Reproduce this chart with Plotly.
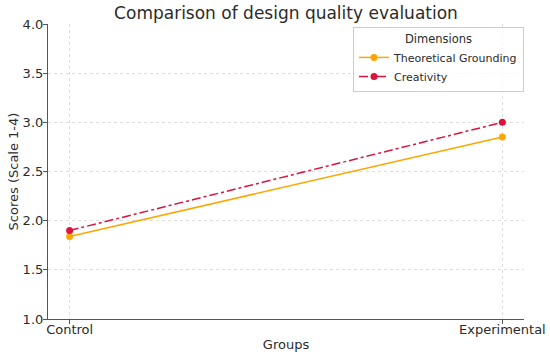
import plotly.graph_objects as go

groups = ["Control", "Experimental"]
theoretical = [1.84, 2.85]
creativity = [1.90, 3.00]
x_idx = [0, 1]

fig = go.Figure()
fig.add_trace(go.Scatter(x=x_idx, y=theoretical, mode="lines+markers", name="Theoretical Grounding",
                         line=dict(color="#FFA500", width=1.5), marker=dict(size=7, color="#FFA500")))
fig.add_trace(go.Scatter(x=x_idx, y=creativity, mode="lines+markers", name="Creativity",
                         line=dict(color="#DC143C", width=1.5, dash="dashdot"), marker=dict(size=7, color="#DC143C")))

fig.update_layout(
    width=550, height=359,
    margin=dict(l=48, r=26, t=24, b=40),
    paper_bgcolor="white", plot_bgcolor="white",
    font=dict(family="DejaVu Sans", color="#2b2b2b", size=13),
    title=dict(text="Comparison of design quality evaluation", x=0.5, xref="paper", xanchor="center",
               y=0.964, yref="container", yanchor="middle",
               font=dict(size=17, color="#2b2b2b")),
    xaxis=dict(range=[-0.05, 1.05], tickmode="array", tickvals=x_idx, ticktext=groups, automargin=False,
               showline=True, linecolor="#555555", linewidth=1.2, ticks="outside", ticklen=4,
               tickcolor="#555555", showgrid=True, gridcolor="#dddddd", griddash="dot", zeroline=False,
               ticklabelstandoff=-6,
               title=dict(text="Groups", font=dict(size=13), standoff=4), tickfont=dict(size=13)),
    yaxis=dict(range=[1.0, 4.0], dtick=0.5, tickformat=".1f", automargin=False,
               showline=True, linecolor="#555555", linewidth=1.2, ticks="outside", ticklen=4,
               tickcolor="#555555", showgrid=True, gridcolor="#dddddd", griddash="dot", zeroline=False,
               ticklabelstandoff=-3,
               title=dict(text="Scores (Scale 1-4)", font=dict(size=13), standoff=1), tickfont=dict(size=13)),
    legend=dict(title=dict(text="Dimensions", side="top center", font=dict(size=11.5)),
                x=1.0, y=0.99, xanchor="right", yanchor="top", itemwidth=30,
                bordercolor="#cccccc", borderwidth=1, bgcolor="rgba(255,255,255,0.8)",
                font=dict(size=11), tracegroupgap=0),
)

fig.write_html("out.html", config={"displayModeBar": False},
               post_script="document.body.style.margin='0';")
